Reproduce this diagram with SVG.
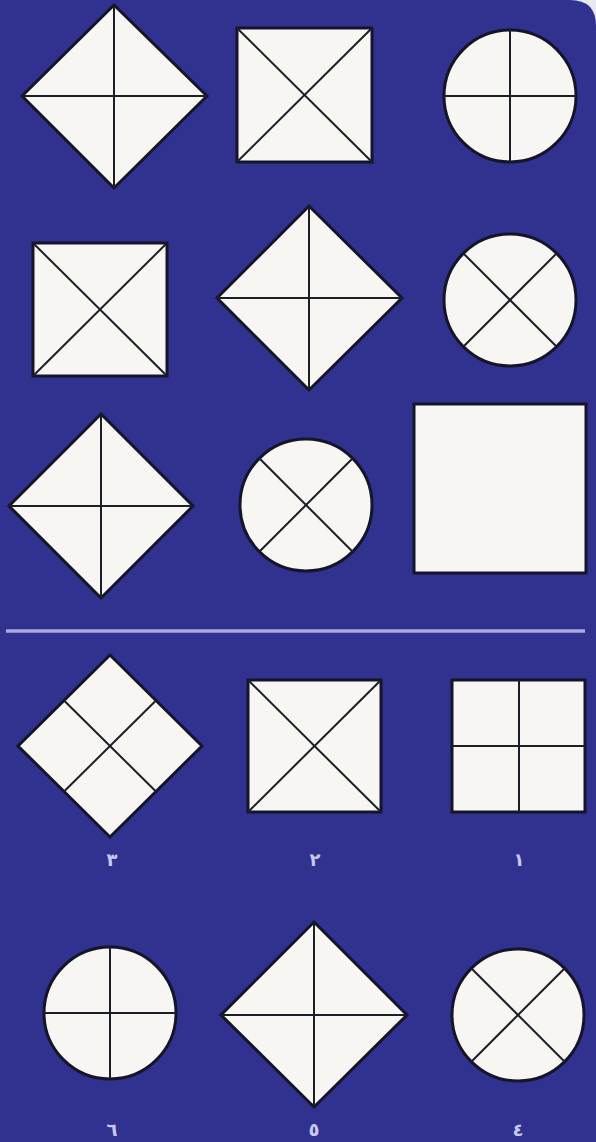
<svg xmlns="http://www.w3.org/2000/svg" width="596" height="1142" viewBox="0 0 596 1142">
<style>
.sh{fill:#f7f6f3;stroke:#15152a;stroke-width:3;stroke-linejoin:miter}
.ln{stroke:#1e1e28;stroke-width:2;fill:none}
.lb{font-family:"DejaVu Sans","Noto Sans",sans-serif;font-size:18px;fill:#c9c9f0;text-anchor:middle;font-weight:bold}
</style>
<rect x="0" y="0" width="596" height="1142" fill="#e8e8f0"/>
<path d="M0 0 H570 Q596 0 596 26 V1142 H0 Z" fill="#31318f"/>

<g id="r1-diamond"><polygon class="sh" points="114,5 207,96 114,188 22,96"/><line class="ln" x1="114" y1="5" x2="114" y2="188"/><line class="ln" x1="22" y1="96" x2="207" y2="96"/></g>
<g id="r1-square"><rect class="sh" x="237" y="28" width="135" height="134"/><line class="ln" x1="237" y1="28" x2="372" y2="162"/><line class="ln" x1="372" y1="28" x2="237" y2="162"/></g>
<g id="r1-circle"><ellipse class="sh" cx="510" cy="96" rx="66" ry="66"/><line class="ln" x1="510" y1="30" x2="510" y2="162"/><line class="ln" x1="444" y1="96" x2="576" y2="96"/></g>

<g id="r2-square"><rect class="sh" x="33" y="243" width="134" height="133"/><line class="ln" x1="33" y1="243" x2="167" y2="376"/><line class="ln" x1="167" y1="243" x2="33" y2="376"/></g>
<g id="r2-diamond"><polygon class="sh" points="309,206 402,298 309,390 217,298"/><line class="ln" x1="309" y1="206" x2="309" y2="390"/><line class="ln" x1="217" y1="298" x2="402" y2="298"/></g>
<g id="r2-circle"><ellipse class="sh" cx="510" cy="300" rx="66" ry="66"/><line class="ln" x1="463.3" y1="253.3" x2="556.7" y2="346.7"/><line class="ln" x1="556.7" y1="253.3" x2="463.3" y2="346.7"/></g>

<g id="r3-diamond"><polygon class="sh" points="101,414 193,506 101,598 9,506"/><line class="ln" x1="101" y1="414" x2="101" y2="598"/><line class="ln" x1="9" y1="506" x2="193" y2="506"/></g>
<g id="r3-circle"><ellipse class="sh" cx="306" cy="505" rx="66" ry="66"/><line class="ln" x1="259.3" y1="458.3" x2="352.7" y2="551.7"/><line class="ln" x1="352.7" y1="458.3" x2="259.3" y2="551.7"/></g>
<g id="r3-square"><rect class="sh" x="414" y="404" width="172" height="169"/></g>

<line x1="6" y1="631" x2="585" y2="631" stroke="#a9a9df" stroke-width="3.5"/>

<g id="opt3"><polygon class="sh" points="110,655 202,746 110,837 18,746"/><line class="ln" x1="64" y1="700.5" x2="156" y2="791.5"/><line class="ln" x1="156" y1="700.5" x2="64" y2="791.5"/><text class="lb" x="112" y="866">٣</text></g>
<g id="opt2"><rect class="sh" x="248" y="680" width="133" height="132"/><line class="ln" x1="248" y1="680" x2="381" y2="812"/><line class="ln" x1="381" y1="680" x2="248" y2="812"/><text class="lb" x="315" y="866">٢</text></g>
<g id="opt1"><rect class="sh" x="452" y="680" width="133" height="132"/><line class="ln" x1="519" y1="680" x2="519" y2="812"/><line class="ln" x1="452" y1="746" x2="585" y2="746"/><text class="lb" x="519" y="866">١</text></g>

<g id="opt6"><ellipse class="sh" cx="110" cy="1013" rx="66" ry="66"/><line class="ln" x1="110" y1="947" x2="110" y2="1079"/><line class="ln" x1="44" y1="1013" x2="176" y2="1013"/><text class="lb" x="112" y="1136">٦</text></g>
<g id="opt5"><polygon class="sh" points="314,922 407,1015 314,1107 221,1015"/><line class="ln" x1="314" y1="922" x2="314" y2="1107"/><line class="ln" x1="221" y1="1015" x2="407" y2="1015"/><text class="lb" x="314" y="1136">٥</text></g>
<g id="opt4"><ellipse class="sh" cx="518" cy="1015" rx="66" ry="66"/><line class="ln" x1="471.3" y1="968.3" x2="564.7" y2="1061.7"/><line class="ln" x1="564.7" y1="968.3" x2="471.3" y2="1061.7"/><text class="lb" x="518" y="1136">٤</text></g>
</svg>
